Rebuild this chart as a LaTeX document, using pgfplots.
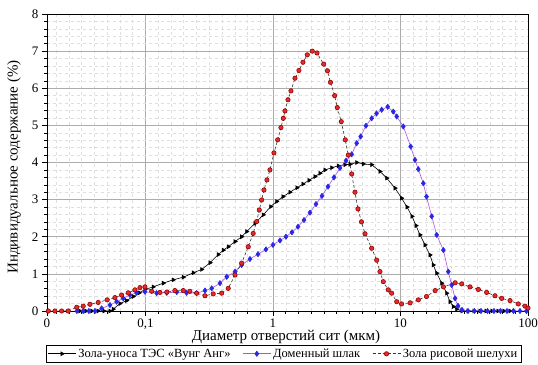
\documentclass[border=0pt]{standalone}
\usepackage{fontspec}
\setmainfont{Liberation Serif}
\usepackage{pgfplots}
\pgfplotsset{compat=1.18}
\definecolor{violetline}{RGB}{175,80,225}
\definecolor{bluemark}{RGB}{40,40,230}
\definecolor{redmark}{RGB}{225,45,45}
\begin{document}
\begin{tikzpicture}
\begin{axis}[
  scale only axis, width=481pt, height=297pt,
  xmode=log, xmin=0.0169, xmax=100, ymin=0, ymax=8,
  xtick={0.1,1,10,100}, xticklabels={{0,1},1,10,100},
  extra x ticks={0.0169}, extra x tick labels={{0,01}},
  extra x tick style={grid=none},
  minor xtick={0.01995,0.02512,0.03162,0.03981,0.05012,0.06310,0.07943,
    0.1259,0.1585,0.1995,0.2512,0.3162,0.3981,0.5012,0.6310,0.7943,
    1.259,1.585,1.995,2.512,3.162,3.981,5.012,6.310,7.943,
    12.59,15.85,19.95,25.12,31.62,39.81,50.12,63.10,79.43},
  ytick={0,1,...,8}, minor y tick num=4,
  grid=both,
  major grid style={gray!65, line width=0.5pt},
  minor grid style={gray!25, dashed, line width=0.4pt},
  tick align=outside, xtick pos=bottom, ytick pos=left,
  major tick length=5pt, minor tick length=3pt,
  tick style={black, line width=0.5pt},
  axis line style={black, line width=0.6pt},
  /pgf/number format/assume math mode=true,
  ticklabel style={font=\fontsize{13}{13}\selectfont},
  xticklabel style={yshift=1pt},
  xlabel={Диаметр отверстий сит (мкм)},
  ylabel={Индивидуальное содержание (\%)},
  xlabel style={at={(axis description cs:0.497,-0.088)}, anchor=center, font=\fontsize{15}{15}\selectfont},
  ylabel style={at={(axis description cs:-0.0686,0.485)}, anchor=center, font=\fontsize{15}{15}\selectfont},
  legend columns=3,
  legend cell align=left,
  legend style={at={(0.4917,-0.1145)}, anchor=north, draw=black, line width=0.5pt,
    font=\fontsize{12.5}{13}\selectfont, inner sep=1.5pt,
    /tikz/every even column/.append style={column sep=10pt}},
  legend image code/.code={\draw[mark repeat=2,mark phase=2,#1] plot coordinates {(0pt,0pt) (14pt,0pt) (28pt,0pt)};},
]
\addplot[black, line width=0.6pt, mark=triangle*, mark size=2.2pt, mark options={rotate=-90, solid, fill=black}] table {
x y
0.0306 0
0.0341 0
0.0380 0
0.0424 0
0.0473 0
0.0527 0
0.0559 0.05
0.0631 0.20
0.0712 0.28
0.0802 0.39
0.0894 0.49
0.0991 0.58
0.1151 0.65
0.138 0.75
0.165 0.84
0.198 0.91
0.237 1.03
0.276 1.12
0.321 1.30
0.372 1.52
0.408 1.64
0.446 1.73
0.504 1.87
0.568 2.00
0.622 2.14
0.722 2.36
0.839 2.59
0.959 2.81
1.069 2.95
1.198 3.08
1.359 3.20
1.542 3.32
1.719 3.42
1.917 3.52
2.134 3.62
2.337 3.71
2.558 3.80
2.887 3.86
3.252 3.91
3.669 3.94
4.016 3.95
4.534 4.00
5.108 3.96
5.943 3.94
6.905 3.76
7.795 3.58
9.056 3.31
10.2 3.04
11.25 2.80
12.31 2.55
13.23 2.30
14.22 2.05
15.57 1.78
17.03 1.51
18.08 1.24
19.23 1.02
21.04 0.75
23.03 0.48
24.44 0.25
25.95 0.12
27.59 0.05
30.36 0
33.84 0
37.7 0
42.04 0
46.87 0
52.2 0
58.2 0
64.9 0
72.3 0
};
\addlegendentry{Зола-уноса ТЭС «Вунг Анг»}
\addplot[violetline, line width=0.6pt, mark=diamond*, mark size=2.6pt, mark options={solid, draw=bluemark, fill=bluemark}] table {
x y
0.0290 0
0.0325 0
0.0360 0
0.0402 0
0.0453 0.07
0.0527 0.16
0.0594 0.25
0.0670 0.34
0.0756 0.43
0.0853 0.49
0.0991 0.52
0.1224 0.48
0.147 0.49
0.176 0.51
0.210 0.49
0.252 0.48
0.293 0.55
0.331 0.61
0.384 0.75
0.434 0.92
0.504 1.06
0.568 1.24
0.660 1.40
0.763 1.53
0.881 1.66
1.0 1.78
1.135 1.90
1.264 2.00
1.409 2.12
1.571 2.27
1.751 2.45
1.951 2.65
2.175 2.88
2.424 3.10
2.701 3.35
3.011 3.60
3.355 3.85
3.739 4.05
4.143 4.22
4.534 4.52
4.873 4.70
5.361 4.99
5.943 5.19
6.486 5.32
7.124 5.42
7.937 5.50
8.780 5.37
9.34 5.24
10.52 4.97
12.02 4.43
12.99 4.07
13.8 3.82
15.1 3.44
16.0 3.08
17.57 2.55
19.23 2.05
21.7 1.64
23.71 1.06
25.2 0.70
26.8 0.34
28.25 0.14
30.36 0.03
33.84 0
38.0 0
42.8 0
48.1 0
54.1 0
60.8 0
68.4 0
76.9 0
86.5 0
97.3 0
};
\addlegendentry{Доменный шлак}
\addplot[black!80, densely dashed, line width=0.6pt, mark=*, mark size=2.2pt, mark options={solid, draw=red!60!black, fill=redmark}] table {
x y
0.0173 0
0.0195 0
0.0220 0
0.0248 0
0.0289 0.10
0.0325 0.13
0.0367 0.18
0.0426 0.23
0.0501 0.30
0.0576 0.36
0.0650 0.43
0.0733 0.49
0.0827 0.57
0.0906 0.63
0.0991 0.65
0.112 0.53
0.130 0.50
0.147 0.51
0.170 0.55
0.198 0.55
0.223 0.53
0.252 0.48
0.293 0.41
0.340 0.46
0.396 0.48
0.446 0.61
0.504 0.97
0.568 1.29
0.640 1.73
0.700 2.09
0.745 2.41
0.781 2.72
0.815 2.99
0.850 3.26
0.897 3.53
0.947 3.80
1.018 4.26
1.089 4.61
1.155 4.94
1.205 5.19
1.242 5.39
1.311 5.69
1.384 5.93
1.488 6.27
1.599 6.48
1.719 6.70
1.858 6.90
2.033 7.00
2.213 6.95
2.499 6.65
2.675 6.47
2.825 6.16
3.047 5.80
3.195 5.48
3.432 5.10
3.690 4.61
3.897 4.20
4.143 3.69
4.397 3.20
4.641 2.75
4.943 2.40
5.270 2.08
5.943 1.69
6.505 1.37
6.905 1.06
7.33 0.79
8.02 0.57
8.53 0.48
9.34 0.25
10.2 0.19
11.9 0.22
13.8 0.30
16.0 0.39
18.7 0.55
21.7 0.65
26.8 0.76
30.2 0.73
35.1 0.65
40.8 0.58
47.4 0.50
55.1 0.41
62.2 0.34
72.3 0.28
83.9 0.19
94.7 0.13
100 0.08
};
\addlegendentry{Зола рисовой шелухи}
\end{axis}
\pgfresetboundingbox
\path ([xshift=-47pt,yshift=-54pt]current axis.south west) rectangle ([xshift=10pt,yshift=14pt]current axis.north east);
\end{tikzpicture}
\end{document}
